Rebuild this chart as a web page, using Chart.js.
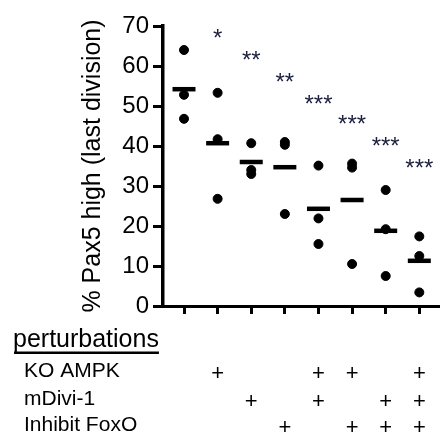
<!DOCTYPE html>
<html>
<head>
<meta charset="utf-8">
<script src="https://cdn.jsdelivr.net/npm/chart.js@4"></script>
<style>
  body { margin: 0; background: #fff; }
</style>
</head>
<body>
<canvas id="chart" width="440" height="439"></canvas>
<script>
// Groups along the x axis (1..8)
const groups = [1, 2, 3, 4, 5, 6, 7, 8];

// Three replicates per group (% Pax5 high, last division)
const rep1 = [64, 53.3, 40.7, 41, 35.1, 35.6, 29, 17.4];
const rep2 = [52.8, 41.7, 34, 40.3, 21.9, 34.6, 19.2, 12.5];
const rep3 = [46.8, 26.8, 33, 23, 15.5, 10.5, 7.5, 3.4];

// Mean bars
const means = [54.2, 40.7, 36, 34.7, 24.3, 26.5, 18.8, 11.3];

// Significance marks and their height
const stars = ["", "*", "**", "**", "***", "***", "***", "***"];
const starY = [null, 68.5, 63, 57.5, 52, 46.8, 41.5, 36];

// Perturbation table
const rowLabels = ["KO AMPK", "mDivi-1", "Inhibit FoxO"];
const koAmpk = [0, 1, 0, 0, 1, 1, 0, 1];
const mDivi = [0, 0, 1, 0, 1, 0, 1, 1];
const inhibitFoxo = [0, 0, 0, 1, 0, 1, 1, 1];
const rows = [koAmpk, mDivi, inhibitFoxo];

const yTicks = [0, 10, 20, 30, 40, 50, 60, 70];

const FONT = "'Liberation Sans', Arial, sans-serif";

var dots = [];
[rep1, rep2, rep3].forEach(function (rep) {
  rep.forEach(function (v, i) {
    dots.push({ x: groups[i], y: v });
  });
});

var meanPoints = means.map(function (v, i) {
  return { x: groups[i], y: v };
});

// draws the stars and the perturbation table under the plot
const extras = {
  id: "extras",
  afterDraw: function (chart) {
    var ctx = chart.ctx;
    var xs = chart.scales.x;
    var ys = chart.scales.y;
    ctx.save();

    ctx.fillStyle = "#1a1f3c";
    ctx.font = "24px " + FONT;
    ctx.textAlign = "center";
    ctx.textBaseline = "alphabetic";
    for (var i = 0; i < groups.length; i++) {
      if (!stars[i]) continue;
      ctx.fillText(stars[i], xs.getPixelForValue(groups[i]), ys.getPixelForValue(starY[i]) + 13.5);
    }

    ctx.fillStyle = "#000";
    ctx.textAlign = "left";
    ctx.font = "25px " + FONT;
    ctx.fillText("perturbations", 13, 347);
    var w = ctx.measureText("perturbations").width;
    ctx.fillRect(14, 351.5, w - 1, 2.5);

    var baselines = [377, 405, 431];
    ctx.font = "21px " + FONT;
    rowLabels.forEach(function (label, r) {
      ctx.fillText(label, 24, baselines[r]);
    });

    ctx.font = "22px " + FONT;
    ctx.textAlign = "center";
    rows.forEach(function (row, r) {
      row.forEach(function (on, i) {
        if (on) ctx.fillText("+", xs.getPixelForValue(groups[i]), baselines[r] + 3);
      });
    });

    ctx.restore();
  }
};

new Chart(document.getElementById("chart"), {
  type: "scatter",
  data: {
    datasets: [
      {
        data: dots,
        backgroundColor: "#000",
        borderColor: "#000",
        pointRadius: 4.5,
        pointHoverRadius: 4.5,
        clip: false
      },
      {
        data: meanPoints,
        pointStyle: "line",
        borderColor: "#000",
        borderWidth: 4.5,
        pointRadius: 11.5,
        pointHoverRadius: 11.5,
        clip: false
      }
    ]
  },
  options: {
    responsive: false,
    animation: false,
    layout: { autoPadding: false, padding: { top: 26, right: 2, bottom: 125, left: 0 } },
    plugins: {
      legend: { display: false },
      tooltip: { enabled: false }
    },
    scales: {
      x: {
        type: "linear",
        min: 0.375,
        max: 8.556,
        afterBuildTicks: function (axis) {
          axis.ticks = groups.map(function (g) { return { value: g }; });
        },
        afterFit: function (axis) { axis.height = 8; },
        ticks: { display: false },
        grid: { drawOnChartArea: false, tickLength: 8, color: "#000", lineWidth: 3 },
        border: { display: true, color: "#000", width: 3 }
      },
      y: {
        min: 0,
        max: 70,
        afterBuildTicks: function (axis) {
          axis.ticks = yTicks.map(function (t) { return { value: t }; });
        },
        afterFit: function (axis) { axis.width = 163; },
        ticks: { color: "#000", padding: 4, font: { family: FONT, size: 24 } },
        grid: { drawOnChartArea: false, tickLength: 10, color: "#000", lineWidth: 3 },
        border: { display: true, color: "#000", width: 3.5 },
        title: {
          display: true,
          text: "% Pax5 high (last division)",
          color: "#000",
          font: { family: FONT, size: 25 },
          padding: { top: 78, bottom: 0 }
        }
      }
    }
  },
  plugins: [extras]
});
</script>
</body>
</html>
